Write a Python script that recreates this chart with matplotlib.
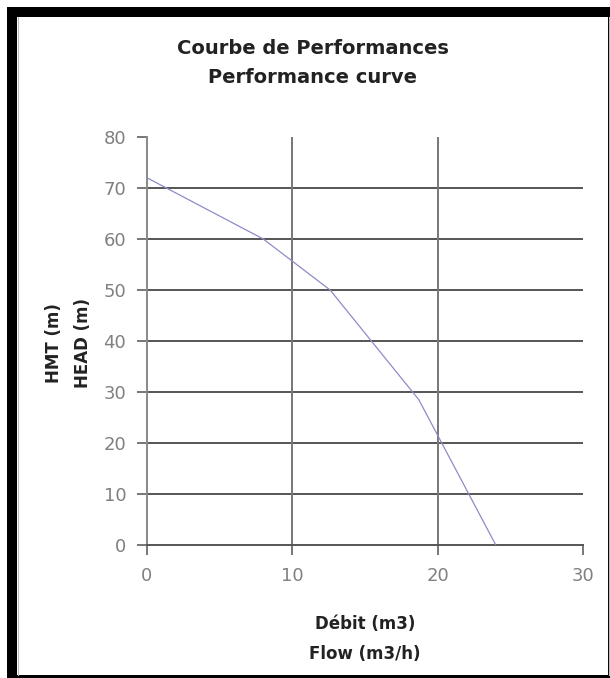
import matplotlib
matplotlib.use('Agg')
import matplotlib.pyplot as plt
from matplotlib.patches import Rectangle
from matplotlib.lines import Line2D

# Courbe de performance (debit m3/h, HMT m)
debit = [0, 8, 12.6, 18.7, 24]
hmt = [72, 60, 50, 28.5, 0]

xticks = [0, 10, 20, 30]
yticks = [0, 10, 20, 30, 40, 50, 60, 70, 80]

plt.rcParams['font.family'] = ['DejaVu Sans']

W, H = 610, 678
fig = plt.figure(figsize=(W/100, H/100), dpi=100)

# cadre noir autour du graphe
fig.patches.append(Rectangle((7/W, 0), 1 - 7/W, 1 - 7/H, transform=fig.transFigure,
                             facecolor='black', edgecolor='none', zorder=-3))
fig.patches.append(Rectangle((17/W, 3/H), 591/W, 1 - 20/H, transform=fig.transFigure,
                             facecolor='white', edgecolor='none', zorder=-2))
fig.lines.append(Line2D([17.5/W, 17.5/W], [3/H, 1 - 17/H], transform=fig.transFigure,
                        color='#bbbbbb', lw=0.8, zorder=-1))
fig.lines.append(Line2D([608.5/W, 608.5/W], [3/H, 1 - 17/H], transform=fig.transFigure,
                        color='#bbbbbb', lw=0.8, zorder=-1))

ax = fig.add_axes([147/W, 1 - 545/H, 436/W, 408/H])
ax.set_zorder(2)
ax.set_facecolor('none')

ax.plot(debit, hmt, color='#8c8cc8', lw=0.9, zorder=3)

ax.set_xlim(0, 30)
ax.set_ylim(0, 80)
ax.set_xticks(xticks)
ax.set_yticks(yticks)

# grille façon Excel
for y in yticks[1:-1]:
    ax.axhline(y, color='#555555', lw=1.4, zorder=1)
for x in xticks[1:-1]:
    ax.axvline(x, color='#777777', lw=1.4, zorder=1)

for s in ['top', 'right']:
    ax.spines[s].set_visible(False)
ax.spines['left'].set_color('#888888')
ax.spines['left'].set_linewidth(1.4)
ax.spines['bottom'].set_color('#555555')
ax.spines['bottom'].set_linewidth(1.4)

ax.tick_params(axis='both', direction='out', length=7, width=1.4, color='#777777',
               labelcolor='#808080', labelsize=13)
ax.tick_params(axis='x', pad=9)
ax.tick_params(axis='y', pad=8)

ax.set_xlabel('Débit (m3)\nFlow (m3/h)', fontsize=12, fontweight='bold', color='#222222',
              linespacing=1.85, va='center')
ax.xaxis.set_label_coords(0.5, -94/408)
ax.set_ylabel('HMT (m)\nHEAD (m)', fontsize=12, fontweight='bold', color='#222222',
              linespacing=1.8, va='center')
ax.yaxis.set_label_coords(-78.5/436, 0.495)

fig.text(313/W, 1 - 63/H, 'Courbe de Performances\nPerformance curve', ha='center', va='center',
         fontsize=14, fontweight='bold', color='#222222', linespacing=1.65)

fig.savefig('out.png', dpi=100)
